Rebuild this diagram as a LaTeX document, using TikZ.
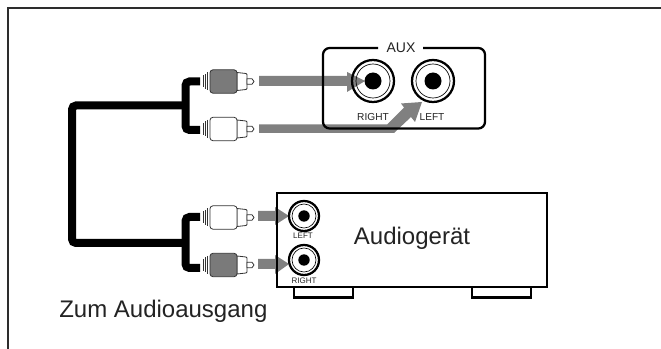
\documentclass[tikz,border=0pt]{standalone}
\usepackage{fontspec}
\setmainfont{Liberation Sans}
\definecolor{arrowgray}{RGB}{128,128,128}
\definecolor{plugdark}{RGB}{122,122,122}
\definecolor{framegray}{RGB}{45,45,45}
\definecolor{txt}{RGB}{35,35,35}
\tikzset{
  px/.style={x=0.75pt,y=-0.75pt},
  frameline/.style={draw=framegray,line width=1.5pt},
  cable/.style={draw=black,line width=6pt,rounded corners=3pt,line cap=butt},
  boxline/.style={draw=black,line width=1.7pt},
  arrowfill/.style={fill=arrowgray,draw=none},
  plugline/.style={draw=black!80,line width=0.6pt},
  biglabel/.style={text=txt,font=\fontsize{18}{20}\selectfont,inner sep=0pt},
  auxlabel/.style={text=txt,font=\fontsize{10.5}{12}\selectfont,inner sep=0pt},
  jacklabel/.style={text=txt,font=\fontsize{7.6}{9}\selectfont,inner sep=0pt},
  smalllabel/.style={text=txt,font=\fontsize{6}{7}\selectfont,inner sep=0pt}
}
% #1 centre y, #2 body colour
\newcommand{\rcaplug}[2]{%
  \draw[plugline] (203,#1-6) -- (203,#1+6) (205.3,#1-7.5) -- (205.3,#1+7.5) (207.5,#1-9) -- (207.5,#1+9);
  \draw[plugline,fill=white] (237,#1-9) -- (246,#1-8) -- (247,#1-7) -- (247,#1+7) -- (246,#1+8) -- (237,#1+9) -- cycle;
  \draw[plugline,fill=white] (247,#1-2.7) -- (252,#1-2.7) -- (254,#1) -- (252,#1+2.7) -- (247,#1+2.7) -- cycle;
  \draw[plugline,fill=#2,rounded corners=2.2pt] (210,#1-11.7) rectangle (237,#1+11.7);
}
% #1 x, #2 y, #3 outer r, #4 inner ring r, #5 hole r
\newcommand{\jack}[5]{%
  \draw[draw=black,line width=1.7pt] (#1,#2) circle[radius=#3*0.75pt];
  \draw[draw=black,line width=0.5pt] (#1,#2) circle[radius=#4*0.75pt];
  \fill[black] (#1,#2) circle[radius=#5*0.75pt];
}
\begin{document}
\begin{tikzpicture}[px]
\useasboundingbox (0,0) rectangle (661,349);
\fill[white] (0,0) rectangle (661,349);
% outer frame
\draw[frameline] (7.5,349) -- (7.5,8.5) -- (661,8.5);
% cables
\draw[cable] (200,81.5) -- (185.5,81.5) -- (185.5,130) -- (200,130);
\draw[cable] (200,217) -- (185.5,217) -- (185.5,268) -- (200,268);
\draw[cable] (185.5,105.5) -- (72,105.5) -- (72,243) -- (185.5,243);
% plugs
\rcaplug{81.5}{plugdark}
\rcaplug{129}{white}
\rcaplug{217.5}{white}
\rcaplug{265}{plugdark}
% arrows
\fill[arrowfill] (259,76) -- (347,76) -- (347,72) -- (365,81) -- (347,92) -- (347,86) -- (259,86) -- cycle;
\fill[arrowfill] (259,124.5) -- (387,124.5) -- (404,107.5) -- (401,103.5) -- (422,102) -- (415,122) -- (411,117) -- (394,133) -- (259,133) -- cycle;
\fill[arrowfill] (258,211) -- (275,211) -- (275,207) -- (289,216) -- (275,225) -- (275,221) -- (258,221) -- cycle;
\fill[arrowfill] (258,259) -- (275,259) -- (275,255) -- (289,264) -- (275,274) -- (275,269) -- (258,269) -- cycle;
% AUX panel
\draw[boxline,rounded corners=5pt] (378,48) -- (323,48) -- (323,128.5) -- (485,128.5) -- (485,48) -- (423,48);
\node[auxlabel] (aux) at (401,47.5) {AUX};
\jack{373}{81}{21}{17}{8.5}
\jack{433}{81}{21}{17}{8.5}
\node[jacklabel] (rightin) at (373,117) {RIGHT};
\node[jacklabel] (leftin) at (432,117) {LEFT};
% device
\draw[boxline] (294,287) -- (294,297.5) -- (353,297.5) -- (353,287);
\draw[boxline] (472,287) -- (472,297.5) -- (531,297.5) -- (531,287);
\draw[boxline] (277,193) rectangle (547,287);
\jack{304}{216}{15}{12}{5.7}
\jack{304}{260}{15}{12}{5.7}
\node[smalllabel] (leftout) at (303,236) {LEFT};
\node[smalllabel] (rightout) at (304,281) {RIGHT};
\node[biglabel,anchor=base] (dev) at (412,245) {Audiogerät};
\node[biglabel,anchor=base west] (out) at (59,317) {Zum Audioausgang};
\end{tikzpicture}
\end{document}
